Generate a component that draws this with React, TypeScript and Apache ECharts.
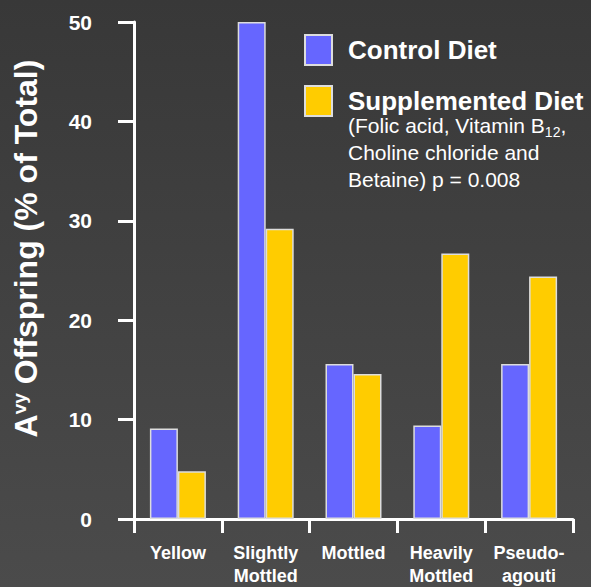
import React, { useEffect, useRef } from "react";
import * as echarts from "echarts";

const categories = ["Yellow", "Slightly\nMottled", "Mottled", "Heavily\nMottled", "Pseudo-\nagouti"];
const controlValues = [9.1, 50, 15.6, 9.4, 15.6];
const supplementedValues = [4.8, 29.2, 14.6, 26.7, 24.4];
const yTicks = { min: 0, max: 50, interval: 10 };

export default function App() {
  const ref = useRef<HTMLDivElement>(null);
  useEffect(() => {
    const chart = echarts.init(ref.current!, null, { renderer: "svg" });
    const font = "Liberation Sans";
    chart.setOption({
      animation: false,
      backgroundColor: {
        type: "linear", x: 0, y: 0, x2: 0, y2: 1,
        colorStops: [{ offset: 0, color: "#383838" }, { offset: 1, color: "#4b4b4b" }],
      },
      textStyle: { fontFamily: font },
      grid: { left: 134, top: 22, right: 18, bottom: 67 },
      legend: {
        orient: "vertical",
        left: 304,
        top: 34,
        padding: 0,
        itemWidth: 27,
        itemHeight: 30,
        itemGap: 19,
        icon: "rect",
        textStyle: { color: "#ffffff", fontSize: 26, fontWeight: "bold", fontFamily: font, padding: [0, 0, 6, 11] },
        data: ["Control Diet", "Supplemented Diet"],
      },
      graphic: [
        {
          type: "text",
          left: 348,
          top: 112,
          style: {
            text: "(Folic acid, Vitamin B{sub|12},\nCholine chloride and\nBetaine) p = 0.008",
            fill: "#ffffff",
            fontSize: 21,
            fontFamily: font,
            lineHeight: 27,
            rich: {
              sub: { fontSize: 14, verticalAlign: "bottom", fill: "#ffffff", fontFamily: font, lineHeight: 24 },
            },
          },
        },
      ],
      xAxis: {
        type: "category",
        data: categories,
        axisLine: { lineStyle: { color: "#ffffff", width: 3 } },
        axisTick: { show: true, length: 14, lineStyle: { color: "#ffffff", width: 3 } },
        axisLabel: { interval: 0, color: "#ffffff", fontSize: 18, fontWeight: "bold", fontFamily: font, margin: 22, lineHeight: 23 },
      },
      yAxis: {
        type: "value",
        min: yTicks.min,
        max: yTicks.max,
        interval: yTicks.interval,
        splitLine: { show: false },
        axisLine: { show: true, lineStyle: { color: "#ffffff", width: 3 } },
        axisTick: { show: true, length: 16, lineStyle: { color: "#ffffff", width: 3 } },
        axisLabel: { color: "#ffffff", fontSize: 21, fontWeight: "bold", fontFamily: font, margin: 42 },
        name: "A{sup|vy} Offspring (% of Total)",
        nameLocation: "middle",
        nameRotate: 90,
        nameGap: 92,
        nameTextStyle: {
          color: "#ffffff",
          fontSize: 32,
          fontWeight: "bold",
          fontFamily: font,
          padding: [0, 0, 0, 44],
          rich: {
            sup: { fontSize: 19, fontWeight: "bold", color: "#ffffff", verticalAlign: "top", fontFamily: font },
          },
        },
      },
      series: [
        {
          name: "Control Diet",
          type: "bar",
          data: controlValues,
          barWidth: 28,
          barGap: "0%",
          itemStyle: { color: "#6666ff", borderColor: "#dddddd", borderWidth: 1.5 },
        },
        {
          name: "Supplemented Diet",
          type: "bar",
          data: supplementedValues,
          barWidth: 28,
          itemStyle: { color: "#ffcc00", borderColor: "#dddddd", borderWidth: 1.5 },
        },
      ],
    });
    return () => chart.dispose();
  }, []);
  return <div ref={ref} style={{ width: 591, height: 587, position: "absolute", left: 0, top: 0 }} />;
}
